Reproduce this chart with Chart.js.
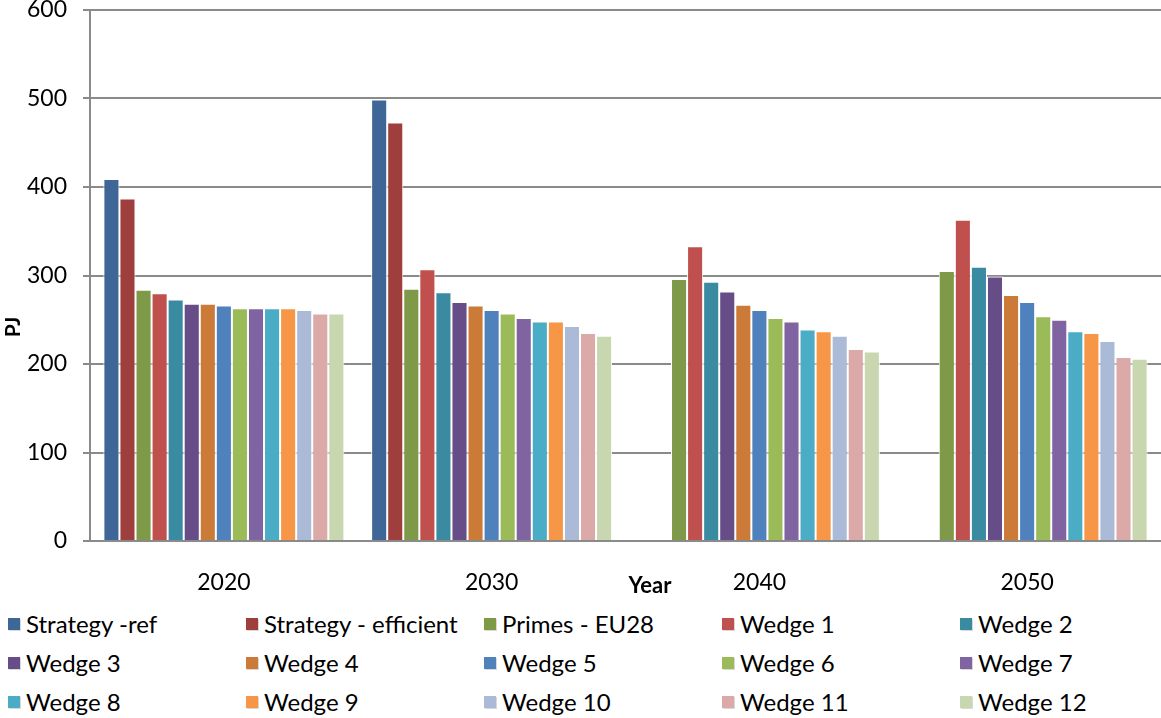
<!DOCTYPE html>
<html>
<head>
<meta charset="utf-8">
<script src="https://cdn.jsdelivr.net/npm/chart.js@4.4.1/dist/chart.umd.min.js"></script>
<style>
    body { margin: 0; background: #fff; font-family: Lato, sans-serif; }
    #wrap { position: relative; width: 1161px; height: 718px; overflow: hidden; }
    #chartBox { position: absolute; left: 0; top: 0; width: 1161px; height: 600px; }
    #legend {
        position: absolute; left: 8px; top: 604px;
        display: grid; grid-template-columns: repeat(5, 238px); grid-auto-rows: 39px;
    }
    .item { display: flex; align-items: center; font-size: 24px; color: #000; white-space: nowrap; }
    .swatch { width: 12px; height: 12px; margin-right: 6px; box-shadow: 1px 1px 0 #d8d8d8; }
</style>
</head>
<body>
<div id="wrap">
    <div id="chartBox"><canvas id="energyChart" width="1161" height="600"></canvas></div>
    <div id="legend"></div>
</div>
<script>
// categories and series values (PJ)
const years = ['2020', '2030', '2040', '2050'];
const yTicks = [0, 100, 200, 300, 400, 500, 600];

const strategyRef = [409, 499, null, null];
const strategyEff = [387, 473, null, null];
const primesEU28 = [284, 285, 296, 305];
const wedge1 = [280, 307, 333, 363];
const wedge2 = [273, 281, 293, 310];
const wedge3 = [268, 270, 282, 299];
const wedge4 = [268, 266, 267, 278];
const wedge5 = [266, 261, 261, 270];
const wedge6 = [263, 257, 252, 254];
const wedge7 = [263, 252, 248, 250];
const wedge8 = [263, 248, 239, 237];
const wedge9 = [263, 248, 237, 235];
const wedge10 = [261, 243, 232, 226];
const wedge11 = [257, 235, 217, 208];
const wedge12 = [257, 232, 214, 206];

const seriesNames = ['Strategy -ref', 'Strategy - efficient', 'Primes - EU28',
    'Wedge 1', 'Wedge 2', 'Wedge 3', 'Wedge 4', 'Wedge 5', 'Wedge 6',
    'Wedge 7', 'Wedge 8', 'Wedge 9', 'Wedge 10', 'Wedge 11', 'Wedge 12'];
const seriesValues = [strategyRef, strategyEff, primesEU28, wedge1, wedge2, wedge3,
    wedge4, wedge5, wedge6, wedge7, wedge8, wedge9, wedge10, wedge11, wedge12];
const seriesColors = ['#3E6797', '#9E3F3D', '#7E9A48', '#C0504D', '#3A8BA2', '#664D87',
    '#CC7A38', '#4F81BD', '#9BBB59', '#8064A2', '#4BACC6', '#F79646',
    '#AABAD7', '#DBA9A8', '#C8D7B0'];

const gridGray = '#8a8a8a';

// axis titles sit where the original puts them (not centred on the plot)
const axisTitles = {
    id: 'axisTitles',
    afterDraw(chart) {
        const ctx = chart.ctx;
        ctx.save();
        ctx.fillStyle = '#000';
        ctx.textAlign = 'center';
        ctx.textBaseline = 'middle';
        ctx.font = 'bold 22px Lato';
        ctx.fillText('Year', 650, 586);
        ctx.font = 'bold 21px Lato';
        ctx.translate(13, 327);
        ctx.rotate(-Math.PI / 2);
        ctx.fillText('PJ', 0, 0);
        ctx.restore();
    }
};

const energyChart = new Chart(document.getElementById('energyChart'), {
    type: 'bar',
    data: {
        labels: years,
        datasets: seriesNames.map((name, i) => ({
            label: name,
            data: seriesValues[i],
            backgroundColor: seriesColors[i],
            borderColor: '#ffffff',
            borderWidth: { left: 1, right: 1, top: 1 },
            categoryPercentage: 0.9,
            barPercentage: 1.0,
        }))
    },
    options: {
        responsive: false,
        animation: false,
        devicePixelRatio: 1,
        layout: { padding: { top: 10, right: 0, left: 0, bottom: 0 } },
        plugins: { legend: { display: false }, tooltip: { enabled: false } },
        scales: {
            x: {
                grid: { display: false },
                border: { display: true, color: gridGray, width: 2 },
                ticks: { color: '#000', font: { family: 'Lato', size: 23 }, padding: 20 },
                afterFit(s) { s.height = 59; s.paddingLeft = 0; s.paddingRight = 0; }
            },
            y: {
                min: 0, max: 600,
                afterBuildTicks(s) { s.ticks = yTicks.map(v => ({ value: v })); },
                grid: { color: gridGray, lineWidth: 2, tickLength: 7 },
                border: { display: true, color: gridGray, width: 2 },
                ticks: { color: '#000', font: { family: 'Lato', size: 23 }, padding: 16 },
                afterFit(s) { s.width = 90; s.paddingTop = 0; s.paddingBottom = 0; }
            }
        }
    },
    plugins: [axisTitles]
});

// legend in a fixed five-column grid, built from the series arrays
const legendBox = document.getElementById('legend');
seriesNames.forEach((name, i) => {
    const item = document.createElement('div');
    item.className = 'item';
    const sw = document.createElement('span');
    sw.className = 'swatch';
    sw.style.background = seriesColors[i];
    item.appendChild(sw);
    item.appendChild(document.createTextNode(name));
    legendBox.appendChild(item);
});
</script>
</body>
</html>
